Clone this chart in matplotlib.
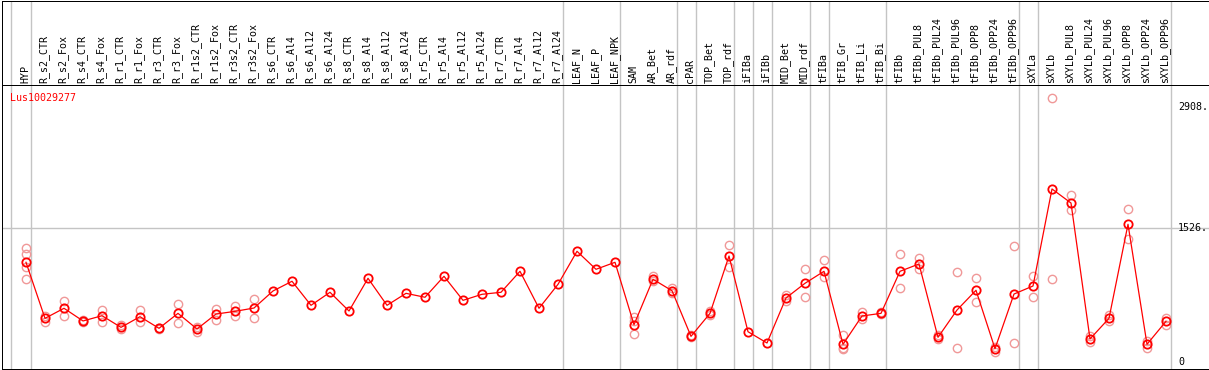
import numpy as np
from matplotlib import pyplot as plt

# columnas (muestras)
muestras = ['HYP', 'R_s2_CTR', 'R_s2_Fox', 'R_s4_CTR', 'R_s4_Fox', 'R_r1_CTR', 'R_r1_Fox',
            'R_r3_CTR', 'R_r3_Fox', 'R_r1s2_CTR', 'R_r1s2_Fox', 'R_r3s2_CTR', 'R_r3s2_Fox',
            'R_s6_CTR', 'R_s6_Al4', 'R_s6_Al12', 'R_s6_Al24', 'R_s8_CTR', 'R_s8_Al4',
            'R_s8_Al12', 'R_s8_Al24', 'R_r5_CTR', 'R_r5_Al4', 'R_r5_Al12', 'R_r5_Al24',
            'R_r7_CTR', 'R_r7_Al4', 'R_r7_Al12', 'R_r7_Al24', 'LEAF_N', 'LEAF_P', 'LEAF_NPK',
            'SAM', 'AR_Bet', 'AR_rdf', 'cPAR', 'TOP_Bet', 'TOP_rdf', 'iFIBa', 'iFIBb',
            'MID_Bet', 'MID_rdf', 'tFIBa', 'tFIB_Gr', 'tFIB_Li', 'tFIB_Bi', 'tFIBb',
            'tFIBb_PUL8', 'tFIBb_PUL24', 'tFIBb_PUL96', 'tFIBb_OPP8', 'tFIBb_OPP24',
            'tFIBb_OPP96', 'sXYLa', 'sXYLb', 'sXYLb_PUL8', 'sXYLb_PUL24', 'sXYLb_PUL96',
            'sXYLb_OPP8', 'sXYLb_OPP24', 'sXYLb_OPP96']

# promedio por muestra
media = [1137, 496, 611, 466, 526, 393, 515, 382, 553, 374, 545, 576, 614,
         809, 920, 645, 794, 580, 954, 645, 782, 737, 977, 702, 771,
         794, 1034, 611, 885, 1263, 1057, 1137,
         423, 943, 812, 290, 553, 1209, 343, 214,
         729, 897, 1034, 199, 523, 553, 1034,
         1118, 279, 591, 817, 149, 774,
         866, 1976, 1815, 260, 496, 1572, 199, 462]

# replicas por muestra
replicas = [[1297, 1229, 1087, 943], [526, 458], [694, 526], [480, 455], [595, 458],
            [415, 370], [595, 458], [390, 375], [660, 439], [400, 340], [603, 477],
            [634, 523], [717, 503],
            [], [], [], [], [], [], [], [], [], [], [], [], [], [], [], [], [], [], [],
            [508, 460, 317], [984, 920], [840, 790], [300, 280], [580, 530], [1335, 1087],
            [], [], [760, 700], [1057, 737], [1160, 965], [302, 142, 160], [565, 485],
            [565, 540], [1229, 840], [1183, 1057], [300, 260], [1026, 160], [954, 680],
            [114, 170], [1324, 214], [980, 737], [3013, 943], [1907, 1732], [290, 230],
            [530, 470], [1743, 1404], [240, 160], [500, 420]]

# separadores de grupos (despues de estas columnas)
grupos = [-1, 0, 28, 31, 34, 35, 37, 38, 39, 41, 42, 45, 52, 53, 60]
marcas_y = [0, 1526, 2908]
gen = 'Lus10029277'

W, H = 1209, 370
fig = plt.figure(figsize=(W / 100, H / 100), dpi=100)
x0, x1 = (1.5 - 26) / 19, (1208.5 - 26) / 19
lw = 0.72
gris = '#c4c4c4'
fuente = 'DejaVu Sans Mono'

axh = fig.add_axes([1.5 / W, (H - 85) / H, 1207 / W, 84.5 / H])
ax = fig.add_axes([1.5 / W, 1 / H, 1207 / W, 284 / H])

for a in (axh, ax):
  a.set_xlim(x0, x1)
  a.set_xticks([])
  a.set_yticks([])
  for s in a.spines.values():
    s.set_linewidth(lw)
    s.set_color('black')
  for g in grupos:
    a.axvline(g + 0.24 if g >= 0 else g + 0.21, color=gris, lw=1.0, zorder=0)

axh.set_ylim(0, 1)
for i, m in enumerate(muestras):
  axh.text(i - 0.05, 0.02, m, rotation=90, ha='center', va='bottom',
           fontsize=7.2, family=fuente)

ax.set_ylim((361.7 - 369) * 11.439, (361.7 - 85) * 11.439)
ax.axhline(1526, color=gris, lw=1.0, zorder=0)

xs = np.arange(len(muestras))
for i, reps in enumerate(replicas):
  if reps:
    ax.plot([i] * len(reps), reps, 'o', ms=6, mfc='none', mec='#f09898', mew=1.0, zorder=2)
ax.plot(xs, media, color='red', lw=0.9, zorder=3)
ax.plot(xs, media, 'o', ms=6, mfc='none', mec='red', mew=1.3, zorder=4)

for v in marcas_y:
  txt = str(v) + '.' if v > 0 else str(v)
  ax.text((1178 - 26) / 19, v, txt, ha='left', va='center', fontsize=7.2, family=fuente)

ax.text((10 - 26) / 19, (361.7 - 97.7) * 11.439, gen, color='red', ha='left', va='center',
        fontsize=7.2, family=fuente)

fig.savefig('out.png', dpi=100)
